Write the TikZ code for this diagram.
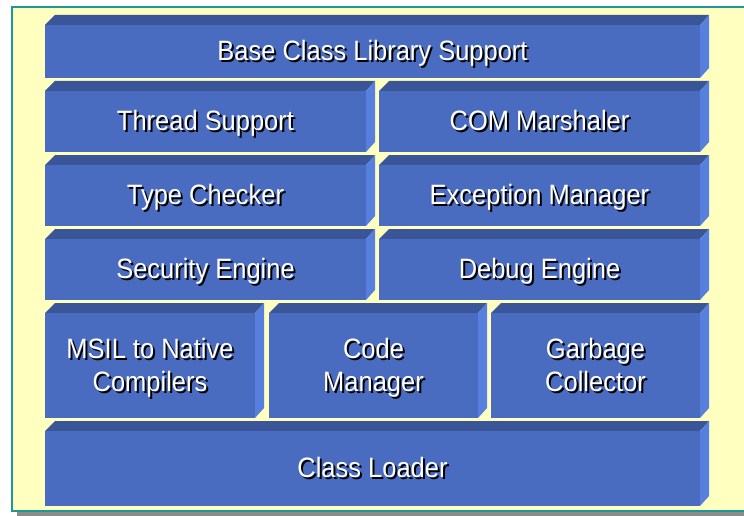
\documentclass[tikz,border=0pt]{standalone}
\usepackage{fontspec}
\setmainfont[FakeStretch=0.91]{Liberation Sans}
\usetikzlibrary{calc}

\definecolor{frameteal}{RGB}{28,152,152}
\definecolor{paper}{RGB}{255,255,192}
\definecolor{frontblue}{RGB}{74,108,192}
\definecolor{topblue}{RGB}{58,85,152}
\definecolor{sideblue}{RGB}{86,127,222}

% slab: name, left x, front top y, front right x, bottom y
\newcommand{\slab}[5]{%
  \fill[topblue] (#2,#3) -- (#2+10,#3-10) -- (#4+9,#3-10) -- (#4,#3) -- cycle;
  \fill[sideblue] (#4,#3) -- (#4+9,#3-10) -- (#4+9,#5-10) -- (#4,#5) -- cycle;
  \fill[frontblue] (#2,#3) rectangle (#4,#5);
  \coordinate (#1) at ({(#2+#4)/2},{(#3+#5)/2+2.5});
}
% white text with black shadow
\newcommand{\shd}[1]{\leavevmode\strut\rlap{\kern2pt\raisebox{-2pt}{\color{black}#1}}#1}

\begin{document}
\begin{tikzpicture}[x=1pt,y=-1pt,
  txt/.style={font=\fontsize{28}{33}\selectfont,align=center,inner sep=0pt,text=white}]
  \useasboundingbox (0,0) rectangle (744,516);
  %FRAME
  \fill[gray!90] (17,512) rectangle (760,516);
  \draw[frameteal,fill=paper,line width=2pt] (12,7.5) rectangle (760,511);
  %ROWS
  \slab{bcl}{45}{25}{700}{78}
  \slab{thread}{45}{91}{366}{152}
  \slab{com}{379}{91}{700}{152}
  \slab{type}{45}{165}{366}{226}
  \slab{exc}{379}{165}{700}{226}
  \slab{sec}{45}{239}{366}{300}
  \slab{debug}{379}{239}{700}{300}
  \slab{msil}{45}{313}{255}{418}
  \slab{code}{269}{313}{478}{418}
  \slab{gc}{491}{313}{700}{418}
  \slab{loader}{45}{431}{700}{506}
  %LABELS
  \node[txt] (bcl-t) at (bcl) {\shd{Base Class Library Support}};
  \node[txt] (thread-t) at (thread) {\shd{Thread Support}};
  \node[txt] (com-t) at (com) {\shd{COM Marshaler}};
  \node[txt] (type-t) at (type) {\shd{Type Checker}};
  \node[txt] (exc-t) at (exc) {\shd{Exception Manager}};
  \node[txt] (sec-t) at (sec) {\shd{Security Engine}};
  \node[txt] (debug-t) at (debug) {\shd{Debug Engine}};
  \node[txt] (msil-t) at (msil) {\shd{MSIL to Native}\\\shd{Compilers}};
  \node[txt] (code-t) at (code) {\shd{Code}\\\shd{Manager}};
  \node[txt] (gc-t) at (gc) {\shd{Garbage}\\\shd{Collector}};
  \node[txt] (loader-t) at (loader) {\shd{Class Loader}};
\end{tikzpicture}
\end{document}
